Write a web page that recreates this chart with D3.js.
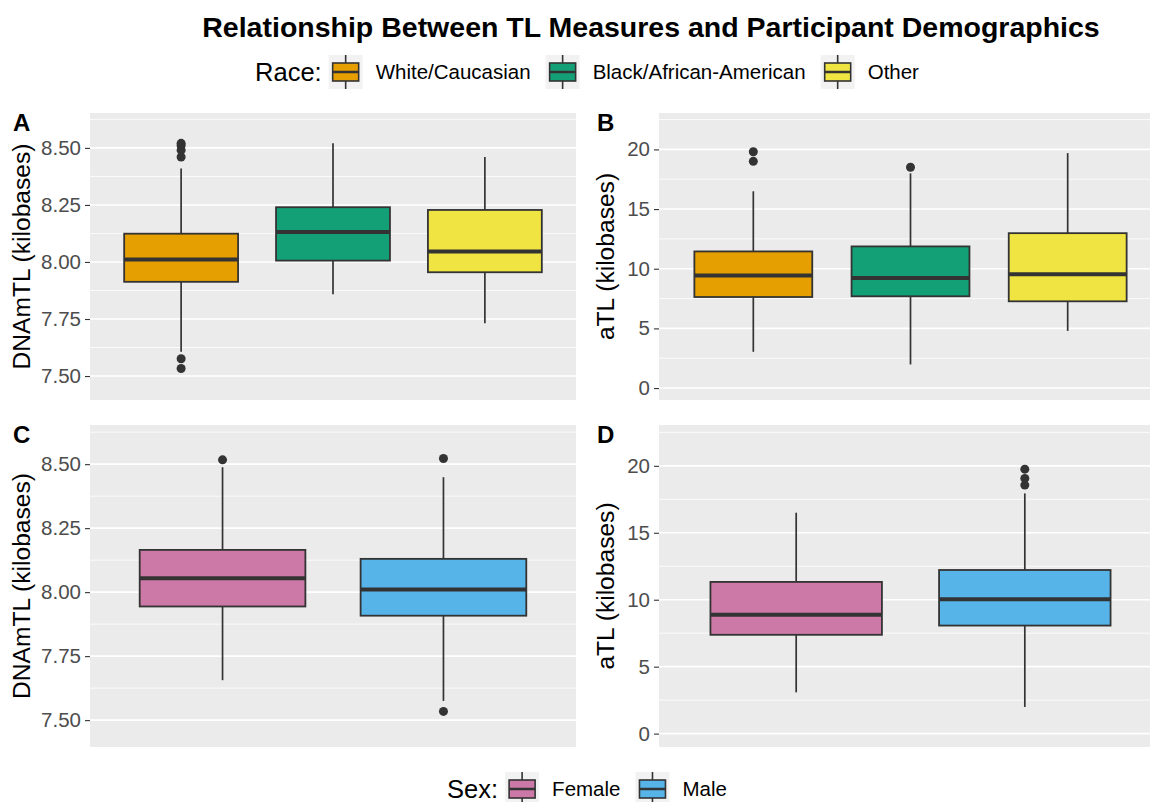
<!DOCTYPE html>
<html>
<head>
<meta charset="utf-8">
<script src="https://cdn.jsdelivr.net/npm/d3@7"></script>
<style>
  body { margin: 0; background: #fff; }
  svg { display: block; font-family: "Liberation Sans", Arial, sans-serif; }
</style>
</head>
<body>
<div class="chart"></div>
<script>
// groups and fills
var raceLabels = ["White/Caucasian", "Black/African-American", "Other"];
var raceColors = ["#E69F00", "#13A077", "#F0E442"];
var sexLabels = ["Female", "Male"];
var sexColors = ["#CC79A7", "#56B4E9"];

// box stats: [lower whisker, q1, median, q3, upper whisker]
var dnamtlRace = [
  [7.607, 7.913, 8.011, 8.124, 8.41],
  [7.859, 8.006, 8.131, 8.240, 8.52],
  [7.731, 7.955, 8.046, 8.228, 8.46]
];
var dnamtlRaceOut = [[8.52, 8.51, 8.49, 8.46, 7.576, 7.533], [], []];

var atlRace = [
  [3.04, 7.63, 9.44, 11.45, 16.49],
  [1.98, 7.69, 9.22, 11.87, 17.99],
  [4.79, 7.27, 9.53, 12.98, 19.69]
];
var atlRaceOut = [[19.8, 19.0], [18.5], []];

var dnamtlSex = [
  [7.656, 7.944, 8.054, 8.165, 8.488],
  [7.575, 7.908, 8.010, 8.130, 8.449]
];
var dnamtlSexOut = [[8.517], [8.522, 7.534]];

var atlSex = [
  [3.08, 7.38, 8.87, 11.33, 16.5],
  [1.99, 8.07, 10.04, 12.22, 17.94]
];
var atlSexOut = [[], [19.75, 19.06, 18.56]];

var dnamtlTicks = [7.5, 7.75, 8.0, 8.25, 8.5];
var dnamtlMinor = [7.625, 7.875, 8.125, 8.375, 8.625];
var atlTicks = [0, 5, 10, 15, 20];
var atlMinor = [2.5, 7.5, 12.5, 17.5, 22.5];

var svgWidth = 1150;
var svgHeight = 802;

var svg = d3.select(".chart").append("svg")
  .attr("width", svgWidth)
  .attr("height", svgHeight);

var ink = "#333333";

// title
svg.append("text")
  .attr("x", 651).attr("y", 37)
  .attr("text-anchor", "middle")
  .attr("font-size", 28.5).attr("font-weight", "bold")
  .attr("fill", "#000")
  .text("Relationship Between TL Measures and Participant Demographics");

function drawPanel(opts) {
  var g = svg.append("g");
  var x = d3.scalePoint().domain(opts.labels).range([opts.x0, opts.x1]).padding(0.6);
  var y = d3.scaleLinear().domain(opts.domain).range([opts.y1, opts.y0]);
  var boxW = x.step() * 0.75;

  g.append("rect")
    .attr("x", opts.x0).attr("y", opts.y0)
    .attr("width", opts.x1 - opts.x0).attr("height", opts.y1 - opts.y0)
    .attr("fill", "#EBEBEB");

  g.selectAll(".minor").data(opts.minor).enter().append("line")
    .attr("x1", opts.x0).attr("x2", opts.x1)
    .attr("y1", function(d) { return y(d); }).attr("y2", function(d) { return y(d); })
    .attr("stroke", "#fff").attr("stroke-width", 0.8);

  g.selectAll(".major").data(opts.ticks).enter().append("line")
    .attr("x1", opts.x0).attr("x2", opts.x1)
    .attr("y1", function(d) { return y(d); }).attr("y2", function(d) { return y(d); })
    .attr("stroke", "#fff").attr("stroke-width", 1.6);

  // axis
  var axis = d3.axisLeft(y).tickValues(opts.ticks).tickSize(5).tickPadding(4).tickFormat(opts.fmt);
  var ag = g.append("g").attr("transform", "translate(" + opts.x0 + ",0)").call(axis);
  ag.select(".domain").remove();
  ag.selectAll(".tick line").attr("stroke", ink).attr("stroke-width", 1.1);
  ag.selectAll(".tick text").attr("fill", "#4D4D4D").attr("font-size", 20.5)
    .attr("font-family", "Liberation Sans, Arial, sans-serif");

  // y title
  g.append("text")
    .attr("transform", "translate(" + opts.titleX + "," + ((opts.y0 + opts.y1) / 2) + ") rotate(-90)")
    .attr("text-anchor", "middle")
    .attr("font-size", 24.6).attr("fill", "#000")
    .text(opts.yTitle);

  // tag
  g.append("text")
    .attr("x", opts.tagX).attr("y", opts.y0 + 18)
    .attr("font-size", 24).attr("font-weight", "bold").attr("fill", "#000")
    .text(opts.tag);

  opts.stats.forEach(function(s, i) {
    var cx = x(opts.labels[i]);
    var bg = g.append("g");
    bg.append("line")
      .attr("x1", cx).attr("x2", cx).attr("y1", y(s[3])).attr("y2", y(s[4]))
      .attr("stroke", ink).attr("stroke-width", 1.7);
    bg.append("line")
      .attr("x1", cx).attr("x2", cx).attr("y1", y(s[1])).attr("y2", y(s[0]))
      .attr("stroke", ink).attr("stroke-width", 1.7);
    bg.append("rect")
      .attr("x", cx - boxW / 2).attr("width", boxW)
      .attr("y", y(s[3])).attr("height", y(s[1]) - y(s[3]))
      .attr("fill", opts.colors[i]).attr("stroke", ink).attr("stroke-width", 1.8);
    bg.append("line")
      .attr("x1", cx - boxW / 2).attr("x2", cx + boxW / 2)
      .attr("y1", y(s[2])).attr("y2", y(s[2]))
      .attr("stroke", ink).attr("stroke-width", 4);
    bg.selectAll("circle").data(opts.out[i]).enter().append("circle")
      .attr("cx", cx).attr("cy", function(d) { return y(d); })
      .attr("r", 4.5).attr("fill", ink);
  });
}

var leftX = [90, 576];
var rightX = [659, 1162];

drawPanel({ labels: raceLabels, colors: raceColors, stats: dnamtlRace, out: dnamtlRaceOut,
  x0: leftX[0], x1: leftX[1], y0: 113, y1: 400, domain: [7.395, 8.653],
  ticks: dnamtlTicks, minor: dnamtlMinor, fmt: d3.format(".2f"),
  yTitle: "DNAmTL (kilobases)", titleX: 30, tag: "A", tagX: 13 });

drawPanel({ labels: raceLabels, colors: raceColors, stats: atlRace, out: atlRaceOut,
  x0: rightX[0], x1: rightX[1], y0: 113, y1: 400, domain: [-1.0, 23.05],
  ticks: atlTicks, minor: atlMinor, fmt: d3.format("d"),
  yTitle: "aTL (kilobases)", titleX: 614, tag: "B", tagX: 597 });

drawPanel({ labels: sexLabels, colors: sexColors, stats: dnamtlSex, out: dnamtlSexOut,
  x0: leftX[0], x1: leftX[1], y0: 425, y1: 747, domain: [7.395, 8.653],
  ticks: dnamtlTicks, minor: dnamtlMinor, fmt: d3.format(".2f"),
  yTitle: "DNAmTL (kilobases)", titleX: 30, tag: "C", tagX: 13 });

drawPanel({ labels: sexLabels, colors: sexColors, stats: atlSex, out: atlSexOut,
  x0: rightX[0], x1: rightX[1], y0: 425, y1: 747, domain: [-1.0, 23.05],
  ticks: atlTicks, minor: atlMinor, fmt: d3.format("d"),
  yTitle: "aTL (kilobases)", titleX: 614, tag: "D", tagX: 597 });

// legends
function drawLegend(title, labels, colors, cx, cy) {
  var g = svg.append("g");
  var t = g.append("text").attr("y", cy + 9).attr("font-size", 25.5).attr("fill", "#000").text(title);
  var pos = t.node().getComputedTextLength() + 7;
  labels.forEach(function(lab, i) {
    var k = g.append("g").attr("transform", "translate(" + pos + "," + (cy - 17) + ")");
    k.append("rect").attr("width", 34).attr("height", 34).attr("fill", "#F2F2F2");
    k.append("line").attr("x1", 17).attr("x2", 17).attr("y1", 0).attr("y2", 34)
      .attr("stroke", ink).attr("stroke-width", 1.6);
    k.append("rect").attr("x", 4).attr("y", 8).attr("width", 26).attr("height", 18)
      .attr("fill", colors[i]).attr("stroke", ink).attr("stroke-width", 1.6);
    k.append("line").attr("x1", 4).attr("x2", 30).attr("y1", 17).attr("y2", 17)
      .attr("stroke", ink).attr("stroke-width", 2.5);
    pos += 34 + 13;
    var lt = g.append("text").attr("x", pos).attr("y", cy + 7)
      .attr("font-size", 20.5).attr("fill", "#000").text(lab);
    pos += lt.node().getComputedTextLength() + 15;
  });
  var total = pos - 15;
  g.attr("transform", "translate(" + (cx - total / 2) + ",0)");
}

drawLegend("Race:", raceLabels, raceColors, 587, 72);
drawLegend("Sex:", sexLabels, sexColors, 587, 789);
</script>
</body>
</html>
